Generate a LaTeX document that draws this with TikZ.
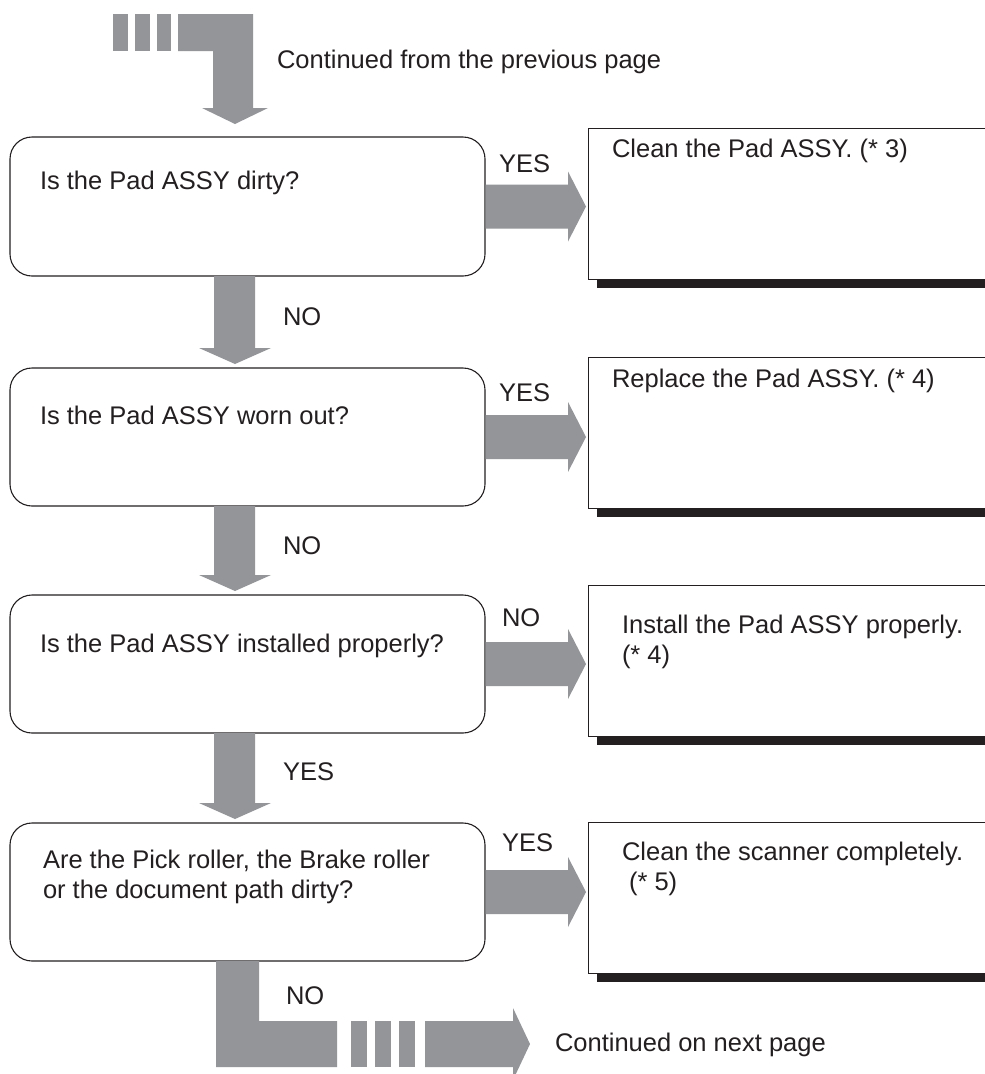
\documentclass[tikz,border=0pt]{standalone}
\usepackage{fontspec}
\setmainfont{Liberation Sans}
\usetikzlibrary{calc}
\definecolor{agray}{HTML}{939598}
\definecolor{ink}{HTML}{231F20}
\newcommand\DArr[2]{%
  \fill[arr] let \p1=(#1.south), \p2=(#2.north) in
    (214pt,\y1) -- (255pt,\y1) -- (255pt,\y2+20pt) -- (271pt,\y2+20pt) --
    (235pt,\y2+4pt) -- (199pt,\y2+20pt) -- (214pt,\y2+20pt) -- cycle;}
\newcommand\RArr[2]{%
  \fill[arr] let \p1=(#1.east), \p2=(#2.west) in
    (\x1+0.6pt,\y1+22pt) -- (\x2-20pt,\y1+22pt) -- (\x2-20pt,\y1+35pt) --
    (\x2-2pt,\y1) -- (\x2-20pt,\y1-35pt) -- (\x2-20pt,\y1-22pt) --
    (\x1+0.6pt,\y1-22pt) -- cycle;}
\newcommand\Shad[1]{%
  \fill[ink] ($(#1.south west)+(9,0)$) rectangle ($(#1.south east)+(9,9)$);}
\begin{document}
\begin{tikzpicture}[x=1pt,y=-1pt,
  every node/.style={inner sep=0pt, outer sep=0pt},
  txt/.style={font=\fontsize{25.5}{30}\selectfont, text=ink, anchor=west, align=left},
  lbl/.style={font=\fontsize{25.5}{30}\selectfont, text=ink, anchor=west},
  qbox/.style={draw=ink, line width=1.1pt, rounded corners=22pt, minimum width=475pt, fill=white},
  abox/.style={draw=ink, line width=1pt, fill=white, minimum width=412pt, minimum height=151pt, anchor=north west},
  arr/.style={fill=agray}]
\clip (0,0) rectangle (985,1074);
\fill[white] (0,0) rectangle (985,1074);

% decision boxes
\node[qbox, minimum height=139pt] (d1) at (247.5,206.5) {};
\node[qbox, minimum height=138pt] (d2) at (247.5,437) {};
\node[qbox, minimum height=138pt] (d3) at (247.5,664) {};
\node[qbox, minimum height=138pt] (d4) at (247.5,892) {};

\node[txt] (q1) at (40,183) {Is the Pad ASSY dirty?};
\node[txt] (q2) at (40,415) {Is the Pad ASSY worn out?};
\node[txt] (q3) at (40,646) {Is the Pad ASSY installed properly?};
\node[txt] (q4) at (43,877) {Are the Pick roller, the Brake roller\\or the document path dirty?};

% action boxes
\node[abox] (a1) at (588,128) {};
\node[abox] (a2) at (588,357) {};
\node[abox] (a3) at (588,585) {};
\node[abox] (a4) at (588,822) {};
\Shad{a1}\Shad{a2}\Shad{a3}\Shad{a4}

\node[txt] (r1) at (612,151) {Clean the Pad ASSY. (* 3)};
\node[txt] (r2) at (612,381) {Replace the Pad ASSY. (* 4)};
\node[txt] (r3) at (622,642) {Install the Pad ASSY properly.\\(* 4)};
\node[txt] (r4) at (622,869) {Clean the scanner completely.\\\ (* 5)};

% top arrow (continued)
\fill[arr] (113,14) rectangle (128,51);
\fill[arr] (135,14) rectangle (150,51);
\fill[arr] (157,14) rectangle (171,51);
\fill[arr] let \p2=(d1.north) in
  (178pt,-14pt) -- (253pt,-14pt) -- (253pt,\y2+29pt) -- (268pt,\y2+29pt) --
  (235pt,\y2+13pt) -- (202pt,\y2+29pt) -- (213pt,\y2+29pt) -- (213pt,-51pt) --
  (178pt,-51pt) -- cycle;
\node[lbl] (cfrom) at (277,62) {Continued from the previous page};

% down arrows
\DArr{d1}{d2}
\DArr{d2}{d3}
\DArr{d3}{d4}
\node[lbl] (n1) at (283,317) {NO};
\node[lbl] (n2) at (283,546) {NO};
\node[lbl] (n3) at (283,772) {YES};

% right arrows
\RArr{d1}{a1}
\RArr{d2}{a2}
\RArr{d3}{a3}
\RArr{d4}{a4}
\node[lbl] (y1) at (499,164) {YES};
\node[lbl] (y2) at (499,393) {YES};
\node[lbl] (y3) at (502,618) {NO};
\node[lbl] (y4) at (502,843) {YES};

% bottom arrow (continued)
\fill[arr] let \p1=(d4.south) in
  (216pt,\y1) -- (259pt,\y1) -- (259pt,-1021pt) -- (337pt,-1021pt) --
  (337pt,-1067pt) -- (216pt,-1067pt) -- cycle;
\fill[arr] (351,1021) rectangle (367,1067);
\fill[arr] (375,1021) rectangle (391,1067);
\fill[arr] (399,1021) rectangle (415,1067);
\fill[arr] (425,1021) -- (513,1021) -- (513,1008) -- (530,1044) --
  (513,1080) -- (513,1067) -- (425,1067) -- cycle;
\node[lbl] (n4) at (286,996) {NO};
\node[lbl] (cnext) at (555,1045) {Continued on next page};
\end{tikzpicture}
\end{document}
